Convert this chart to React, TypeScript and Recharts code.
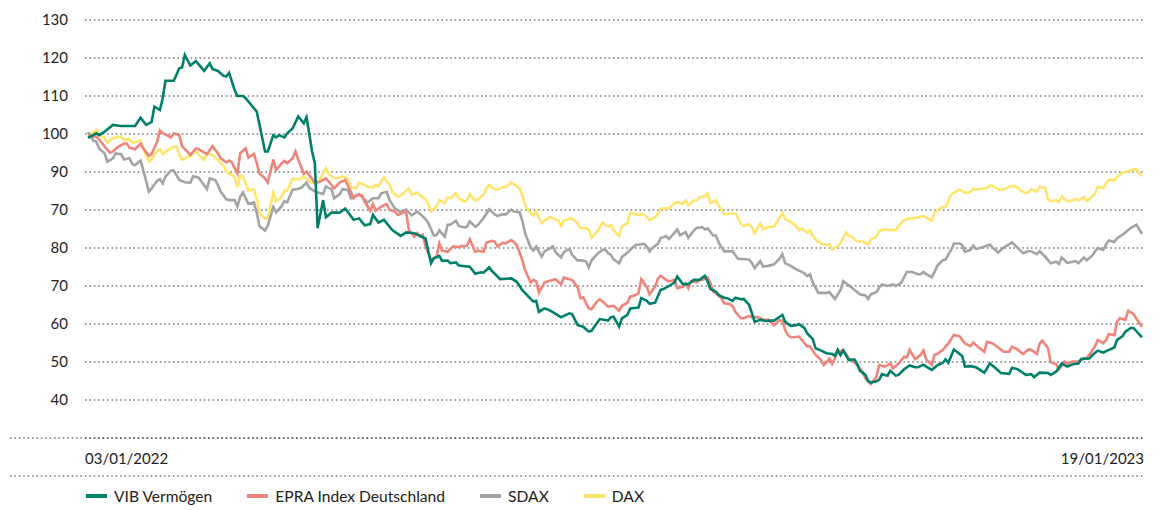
import React from "react";
import { LineChart, Line, XAxis, YAxis, CartesianGrid, Legend } from "recharts";

// x = calendar days since 03/01/2022, y = indexed value
const DAY_LAST = 381;
const X_TICK_LABELS = ["03/01/2022", "19/01/2023"];
const Y_TICKS = [130, 120, 110, 100, 90, 80, 70, 60, 50, 40, 30];
// labels exactly as printed on the original chart
const Y_TICK_LABELS = ["130", "120", "110", "100", "90", "70", "80", "70", "60", "50", "40"];

const VIB: [number, number][] = [
  [0, 99], [3, 100.2], [4, 99.7], [6, 100.6], [9, 102.4], [12, 102.1], [17, 102.1], [19, 104.3], [21, 102.4], [23, 103.2],
  [24, 107.2], [26, 106.3], [27, 109.4], [28, 114], [31, 114], [33, 117.3], [34, 117.5], [35, 120.8], [37, 118], [39, 119.2],
  [40, 118.3], [42, 116.6], [44, 118.6], [45, 117.1], [47, 116.6], [49, 115.3], [50, 115.1], [51, 116.1], [53, 111.6], [54, 110],
  [56, 110], [57, 109.4], [61, 105.9], [64, 95.4], [65, 95.4], [67, 99.7], [68, 99.1], [69, 99.7], [71, 99.1], [72, 100.2],
  [74, 101.5], [76, 104.6], [78, 102.8], [79, 104.4], [81, 95.4], [82, 92.3], [83, 75.2], [85, 82.6], [86, 78.1], [88, 79.3],
  [91, 79.3], [93, 80.4], [96, 77.4], [98, 77.8], [100, 76], [102, 76.3], [103, 78.7], [105, 76.7], [107, 77.4], [110, 74.7],
  [113, 73.2], [115, 74.1], [118, 73.9], [120, 73.2], [122, 72.5], [124, 66], [125, 67.3], [127, 67.9], [128, 66.6], [130, 66.7],
  [131, 66], [133, 66.2], [134, 65.4], [138, 65.1], [140, 63.2], [142, 63.6], [143, 63.5], [145, 64.9], [146, 64], [149, 61.8],
  [153, 62], [155, 61.1], [157, 58.9], [160, 56.6], [161, 55.9], [162, 56.1], [163, 53.2], [165, 54.1], [166, 53.9], [168, 53.1],
  [171, 51.8], [174, 52.8], [175, 52.6], [177, 49.7], [179, 49.3], [181, 48], [182, 48.2], [185, 51.3], [188, 50.9], [189, 51.8],
  [190, 51.9], [192, 49.3], [193, 51.5], [195, 52.4], [196, 54.1], [199, 54.3], [200, 56.8], [202, 56.1], [203, 55.3], [205, 55.6],
  [207, 59], [208, 59.2], [210, 60], [212, 60.9], [213, 62.5], [215, 60.5], [217, 60.5], [219, 61.6], [221, 61.6], [223, 62.7],
  [224, 61.1], [225, 59.2], [227, 58.5], [228, 57.6], [230, 56.9], [231, 56.8], [233, 56.1], [234, 56.9], [236, 56.5], [237, 56.6],
  [239, 55], [241, 50.6], [243, 51.1], [245, 50.8], [247, 50.9], [248, 50.9], [251, 52.4], [252, 50.6], [254, 49.5], [256, 49.7],
  [257, 50], [259, 48.9], [260, 47.5], [262, 46], [263, 43.6], [265, 43], [267, 42.3], [269, 42.1], [270, 41.6], [271, 43.2],
  [272, 41.8], [273, 43], [275, 40.5], [277, 40.7], [278, 39.6], [279, 37.7], [281, 36.6], [282, 35], [283, 34.6], [285, 34.9],
  [286, 35.3], [287, 36.8], [289, 36.4], [290, 37.7], [292, 36.4], [293, 36.6], [295, 38.1], [297, 39.1], [299, 38.6], [300, 38.6],
  [302, 39.3], [303, 38.8], [305, 37.9], [307, 39.1], [309, 39.8], [310, 40.7], [311, 39.8], [313, 43.3], [316, 41.6], [317, 38.8],
  [319, 38.9], [321, 38.6], [324, 37.2], [326, 39.6], [328, 38.4], [330, 37.1], [333, 36.9], [334, 38.5], [336, 38.1], [339, 36.6],
  [341, 36.8], [342, 36], [344, 37.2], [347, 37.1], [348, 36.6], [350, 37.5], [352, 39.6], [354, 38.8], [356, 39.4], [358, 39.6],
  [359, 40.8], [362, 40.9], [363, 41.8], [365, 43], [367, 42.5], [369, 43.2], [371, 43.8], [372, 45.8], [374, 46.8], [375, 48],
  [377, 49], [378, 48.9], [381, 46.5],
];

const EPRA: [number, number][] = [
  [0, 99.5], [3, 99.3], [4, 98.6], [6, 96.7], [8, 95.1], [9, 95.4], [11, 96.7], [13, 97.5], [14, 97.5], [15, 96.4],
  [17, 96], [19, 97.4], [20, 96.2], [22, 94.2], [23, 94.7], [25, 98], [26, 100.9], [27, 100.2], [28, 99.9], [30, 99.1],
  [31, 100.2], [33, 99.7], [34, 96.8], [35, 96], [37, 94.5], [39, 96.2], [40, 96], [42, 95.1], [43, 94.7], [45, 96.8],
  [47, 94.9], [48, 93.6], [50, 92.5], [51, 93], [52, 92.5], [54, 89.6], [55, 94.9], [57, 96.2], [58, 93.8], [60, 94.8],
  [61, 92.3], [62, 89.6], [64, 88.3], [65, 87.2], [67, 93.3], [68, 90.5], [70, 92.3], [71, 92.9], [72, 92.3], [74, 93.6],
  [75, 95.4], [76, 93.3], [78, 89.5], [79, 90.1], [81, 88.2], [82, 87], [84, 87.5], [86, 88.3], [87, 87.5], [89, 85.7],
  [91, 87.2], [93, 87.9], [95, 84.8], [96, 83.1], [97, 83.9], [99, 83.9], [100, 82.2], [102, 79.8], [103, 81.6], [104, 79.8],
  [106, 80.9], [108, 81.6], [109, 80], [111, 79.6], [112, 78.7], [114, 79.3], [115, 79.6], [116, 74.7], [118, 73], [119, 73.9],
  [120, 73], [121, 73.5], [122, 70.4], [124, 66.8], [126, 67.7], [127, 71.2], [128, 69.3], [130, 69], [132, 70.4], [134, 70.2],
  [135, 70.5], [137, 70.6], [138, 72.3], [140, 69], [141, 69.3], [143, 69], [144, 71.4], [146, 71.9], [147, 71.7], [148, 70.4],
  [150, 71.4], [151, 71.2], [153, 72.1], [154, 71.5], [155, 70.8], [157, 66.8], [158, 64.2], [160, 60.9], [161, 61.6], [162, 61.2],
  [163, 58.3], [165, 60.9], [166, 61.2], [168, 61.6], [169, 61.8], [171, 60.4], [172, 62.2], [174, 61.8], [175, 61.6], [177, 59.6],
  [178, 56.8], [179, 57], [181, 54.1], [182, 53.9], [184, 55.9], [185, 56.5], [187, 55.3], [188, 54.6], [190, 54.8], [192, 53.5],
  [193, 54.8], [195, 55.6], [196, 57.2], [198, 57.6], [199, 58.1], [200, 61.8], [202, 59.7], [203, 57.8], [205, 59.8], [206, 61.9],
  [207, 62.7], [209, 61.6], [210, 61.2], [212, 61.6], [213, 59.4], [215, 59.8], [216, 60.7], [217, 59.4], [218, 61.2], [220, 61],
  [221, 61.6], [222, 61.6], [224, 62.3], [225, 60.7], [226, 58.5], [227, 58.1], [229, 56.8], [230, 55.4], [232, 55.3], [233, 54.7],
  [234, 53.2], [236, 51.5], [237, 51.5], [239, 52.1], [240, 51.8], [242, 51.8], [244, 51.2], [246, 51.1], [248, 49.7], [250, 51],
  [251, 50.9], [252, 48.4], [253, 47.1], [254, 46.5], [255, 46.5], [257, 46.7], [258, 45.8], [260, 44.1], [261, 44.1], [263, 41.9],
  [265, 40.5], [266, 39.2], [268, 40.9], [269, 39.5], [271, 42.5], [273, 43.2], [275, 41], [276, 40.5], [278, 39.2], [280, 37.5],
  [281, 35.7], [283, 34.2], [285, 36.1], [286, 39.2], [288, 38.8], [290, 39.6], [291, 38.3], [293, 39.6], [295, 41.4], [296, 41.2],
  [297, 43.2], [299, 40.7], [301, 41.9], [302, 43], [303, 40.7], [305, 39.2], [306, 41.9], [307, 42.1], [309, 43.2], [311, 44.9],
  [313, 47.1], [315, 46.8], [317, 44.9], [319, 44.2], [320, 45.1], [322, 43.8], [324, 42.7], [325, 45.3], [327, 44.9], [329, 43.8],
  [331, 42.7], [333, 42.7], [334, 44], [336, 43.3], [338, 42.1], [340, 43.3], [341, 43.2], [343, 42.1], [344, 44.9], [345, 45.6],
  [347, 43.6], [348, 39.9], [350, 39.4], [351, 38.1], [353, 40.1], [354, 39.6], [356, 40.1], [358, 40.1], [360, 41], [361, 41],
  [363, 43], [364, 44.1], [365, 45.8], [367, 45], [368, 45.8], [369, 47.3], [371, 47.1], [372, 50.6], [373, 51.5], [375, 51.1],
  [376, 53.5], [378, 52.6], [379, 51.4], [381, 49.3],
];

const SDAX: [number, number][] = [
  [0, 100.5], [2, 98.2], [3, 98], [4, 96.2], [6, 94.9], [7, 92.7], [9, 93.6], [10, 94.9], [12, 94.7], [13, 93.3],
  [15, 93.6], [16, 92.1], [17, 91.8], [19, 93], [20, 90.5], [22, 84.8], [23, 85.7], [25, 87.7], [26, 88.1], [27, 87],
  [28, 88.8], [30, 90.4], [31, 90.4], [33, 87.9], [35, 87.3], [37, 87.2], [38, 88.9], [40, 88.5], [41, 87.5], [43, 85.5],
  [44, 88.3], [46, 87.9], [47, 86.5], [48, 84.8], [50, 82.8], [51, 82.6], [53, 82.6], [54, 80.9], [55, 83.5], [56, 84.6],
  [58, 81.6], [60, 82], [61, 79.2], [62, 75.7], [64, 74.6], [65, 75.9], [67, 80.8], [68, 79.4], [70, 81], [71, 82.3],
  [72, 82], [74, 85.4], [75, 85.4], [77, 85.8], [79, 87.2], [80, 85.8], [82, 84.9], [83, 84.6], [85, 84.2], [86, 86.2],
  [88, 85.5], [89, 83.1], [91, 84.2], [92, 85.5], [94, 85.3], [95, 83.1], [96, 83.3], [98, 84.2], [100, 82.8], [101, 81.9],
  [103, 83.1], [105, 83.1], [106, 84.4], [108, 84.8], [109, 82.6], [111, 80.4], [113, 79.5], [115, 80.1], [117, 78.6], [119, 79.6],
  [120, 79], [122, 77.6], [123, 76.6], [125, 73.3], [126, 73.4], [127, 74.6], [129, 73], [130, 76.1], [131, 76.1], [133, 77.2],
  [134, 75.8], [136, 75.4], [137, 75.6], [138, 77], [140, 75.6], [141, 76.1], [143, 77.9], [145, 80.2], [147, 78.9], [148, 78.4],
  [150, 78.9], [151, 78.8], [153, 80.1], [154, 79.6], [156, 79.4], [157, 77.2], [158, 73.9], [160, 70.2], [161, 69.3], [162, 70.4],
  [164, 67.7], [165, 69.1], [167, 69.9], [168, 70.4], [169, 68.9], [171, 67.5], [172, 68.9], [174, 69.8], [175, 68.2], [177, 66.7],
  [178, 66.8], [180, 66.5], [181, 64.9], [182, 66.7], [184, 68.4], [186, 69.5], [187, 69.6], [188, 68.6], [189, 68.2], [190, 67],
  [192, 66], [193, 67.6], [195, 68.8], [197, 70.2], [198, 70.8], [200, 71], [201, 71.1], [202, 70.4], [203, 69.1], [204, 70],
  [206, 71.1], [207, 72.6], [209, 73.1], [210, 72.4], [212, 74], [213, 74.9], [214, 73.4], [216, 74.2], [217, 72.7], [219, 74.6],
  [220, 75.3], [222, 75.5], [223, 74.9], [224, 75.2], [226, 73.3], [227, 73.3], [228, 71.4], [230, 69.1], [231, 69.1], [233, 69.1],
  [235, 67.1], [237, 67.1], [239, 66.9], [240, 66], [241, 64.7], [243, 66.6], [244, 65.1], [246, 65.3], [248, 65.7], [250, 67.2],
  [251, 68.4], [252, 66], [254, 65.3], [256, 64.4], [258, 63.7], [259, 63.3], [260, 62.6], [261, 63.1], [262, 60.9], [264, 58.2],
  [265, 58.2], [267, 58.2], [268, 58.4], [270, 56.6], [271, 57.8], [272, 58.9], [273, 61.3], [275, 60.2], [276, 59.6], [278, 58.4],
  [279, 57.8], [281, 57.5], [282, 56.6], [283, 57.8], [285, 58.4], [286, 59.6], [287, 60.4], [289, 60], [291, 60.4], [292, 60],
  [294, 60.9], [295, 62.3], [296, 63.7], [298, 63.7], [300, 63.1], [301, 63.1], [302, 63.7], [303, 63.1], [305, 62.3], [306, 63.7],
  [307, 65.3], [309, 66.8], [310, 67], [312, 69.5], [313, 71.2], [315, 71.2], [316, 70.8], [317, 69], [319, 69.5], [320, 70.6],
  [321, 69.7], [323, 70.1], [326, 70.9], [327, 70.1], [329, 68.8], [331, 70.1], [334, 71.5], [336, 70.1], [338, 68.6], [340, 69.2],
  [341, 69.1], [343, 68.4], [344, 69.2], [346, 67.7], [348, 66], [350, 66.4], [351, 65.8], [352, 67.5], [354, 66.1], [356, 66.4],
  [357, 66.6], [358, 66], [360, 67.5], [361, 66.8], [363, 68], [364, 69.1], [365, 70], [367, 69.5], [368, 70.9], [369, 72],
  [371, 71.6], [372, 72.6], [374, 73.5], [375, 74.1], [377, 75.3], [378, 75.7], [379, 76.1], [381, 73.7],
];

const DAX: [number, number][] = [
  [0, 100], [2, 100.4], [3, 101.1], [5, 99.3], [6, 99.1], [7, 97.7], [9, 98.9], [11, 99.3], [12, 99.3], [13, 98.4],
  [15, 98.7], [16, 97.7], [18, 98], [19, 98.4], [20, 96.2], [22, 92.7], [23, 93.3], [25, 95.6], [26, 96], [27, 94.7],
  [29, 95.8], [31, 96.7], [32, 96.7], [33, 94.7], [34, 93.2], [36, 94], [37, 94.2], [38, 94.9], [39, 95.6], [40, 94.5],
  [42, 93.2], [43, 94.9], [45, 94.5], [47, 93.2], [49, 91.6], [50, 90.1], [51, 89.6], [53, 88.8], [54, 86], [55, 89],
  [56, 88.9], [58, 85.1], [60, 85.4], [61, 82.8], [62, 79.1], [64, 77.8], [65, 77.8], [67, 84.6], [68, 82.2], [70, 83.5],
  [71, 85.1], [72, 85.1], [74, 88.3], [75, 88.1], [77, 88.2], [78, 88.8], [80, 87.5], [81, 87.2], [83, 87.5], [84, 88.3],
  [86, 91], [87, 89.5], [89, 88.3], [91, 88.5], [92, 88.9], [94, 88.2], [95, 86.1], [97, 85.7], [98, 87.2], [100, 86.6],
  [101, 86.1], [103, 85.9], [104, 86.6], [105, 86.3], [107, 88.6], [109, 86.6], [110, 84.8], [112, 83.5], [113, 83.7], [115, 85.1],
  [116, 85.7], [117, 84], [119, 84.6], [120, 83.9], [122, 82.8], [123, 81.6], [124, 79.6], [126, 80.9], [127, 82.6], [129, 81.8],
  [130, 83.3], [131, 83.1], [133, 84.4], [134, 83.1], [136, 82.2], [137, 82.6], [138, 84.1], [140, 82.5], [141, 82.8], [143, 84.1],
  [144, 85.7], [145, 86.6], [147, 85.4], [148, 85.3], [150, 86.1], [151, 86], [153, 87.2], [154, 86.8], [156, 85.7], [157, 83.9],
  [158, 81.3], [160, 79.1], [161, 78.5], [162, 79.6], [164, 76.5], [165, 77.2], [167, 78.2], [168, 77.8], [170, 77.2], [171, 75.8],
  [172, 77.2], [174, 77.7], [175, 77.8], [177, 76.5], [178, 75.2], [180, 75.2], [181, 74.9], [182, 72.7], [184, 74.3], [185, 75.4],
  [186, 76.7], [188, 75.6], [189, 76.1], [190, 74.7], [192, 73.1], [193, 75.8], [195, 76.5], [196, 79.3], [198, 78.8], [199, 78.8],
  [201, 78.8], [202, 78.2], [203, 77.3], [205, 78.1], [206, 79], [207, 80.4], [209, 80.4], [210, 80.4], [212, 81.8], [213, 82.1],
  [215, 81.6], [216, 82.5], [217, 81.3], [219, 82.5], [220, 82.5], [221, 83.3], [223, 83.6], [224, 84.4], [225, 81.8], [227, 82.5],
  [228, 81.1], [230, 78.9], [231, 78.9], [234, 79.2], [236, 76.3], [237, 75.8], [239, 76.3], [240, 75.4], [241, 73.9], [243, 76.5],
  [244, 74.9], [246, 75.6], [248, 75.6], [249, 76.8], [251, 79.2], [252, 77.7], [254, 76.8], [256, 75.8], [257, 74.7], [258, 75.1],
  [260, 74], [261, 74.7], [262, 73.1], [264, 71.6], [265, 71.2], [267, 70.8], [268, 71], [269, 69.6], [271, 70.5], [272, 71.2],
  [274, 74.1], [275, 73.2], [276, 73], [278, 71.7], [280, 71.7], [282, 71], [283, 72.3], [285, 73], [286, 74.5], [288, 74.9],
  [290, 74.7], [292, 74.7], [293, 75.8], [294, 76.7], [296, 77.7], [298, 77.8], [300, 78], [302, 78.5], [303, 78], [305, 77.2],
  [306, 79.2], [307, 79.9], [309, 80.8], [310, 80.8], [312, 84.1], [313, 84.5], [315, 85.4], [317, 84.5], [319, 84.7], [320, 85.6],
  [321, 85.4], [323, 85.6], [325, 85.8], [326, 86.5], [327, 86.4], [329, 85.4], [331, 85.4], [333, 86.1], [334, 86.4], [336, 86],
  [337, 85.1], [339, 84.5], [340, 84.7], [341, 85.4], [343, 84.9], [344, 86.1], [346, 85.8], [347, 82.9], [348, 82.3], [350, 82.6],
  [351, 82.1], [352, 83.6], [354, 82.3], [356, 82.6], [357, 82.9], [358, 82.5], [360, 83.4], [361, 82.3], [363, 83.5], [364, 84.3],
  [365, 86.1], [367, 85.8], [368, 87], [369, 88], [371, 87.8], [372, 88.7], [374, 89.8], [375, 90], [377, 90.4], [378, 90.7],
  [379, 90.7], [381, 88.8],
];

const SERIES = [
  { name: "VIB Vermögen", color: "#00806b", points: VIB },
  { name: "EPRA Index Deutschland", color: "#f0847b", points: EPRA },
  { name: "SDAX", color: "#a3a3a3", points: SDAX },
  { name: "DAX", color: "#ffe46e", points: DAX },
];

const FONT = "Lato, 'Open Sans', sans-serif";
const DOT_LINE = { stroke: "#3a3a3a", strokeWidth: 1.2, strokeDasharray: "1.6 2.8" };

function DateTick(props: any) {
  const { x, y, payload } = props;
  const first = payload.value === 0;
  return (
    <text
      x={first ? x - 3 : x + 2}
      y={y + 24}
      textAnchor={first ? "start" : "end"}
      fontFamily={FONT}
      fontSize={15}
      fill="#222"
    >
      {first ? X_TICK_LABELS[0] : X_TICK_LABELS[1]}
    </text>
  );
}

function LegendRow() {
  return (
    <div style={{ display: "flex", alignItems: "center", height: 28, paddingLeft: 86, fontFamily: FONT, fontSize: 15.6, color: "#222" }}>
      {SERIES.map((s) => (
        <div key={s.name} style={{ display: "flex", alignItems: "center", marginRight: 35 }}>
          <span style={{ display: "inline-block", width: 21, height: 4, background: s.color, marginRight: 7 }} />
          <span>{s.name}</span>
        </div>
      ))}
    </div>
  );
}

export default function App() {
  const toRows = (pts: [number, number][]) => pts.map(([day, value]) => ({ day, value }));
  const drawOrder = [...SERIES].reverse();

  return (
    <div style={{ position: "absolute", left: 0, top: 0, width: 1159, height: 510, background: "#fff" }}>
      <LineChart width={1159} height={510} margin={{ top: 20, right: 14, bottom: 0, left: 0 }}>
        <CartesianGrid horizontal vertical={false} {...DOT_LINE} />
        <XAxis
          type="number"
          dataKey="day"
          domain={[0, DAY_LAST]}
          ticks={[0, DAY_LAST]}
          padding={{ left: 3, right: 3 }}
          height={44}
          axisLine={false}
          tickLine={false}
          tickSize={0}
          tick={<DateTick />}
          interval={0}
        />
        <YAxis
          type="number"
          domain={[20, 130]}
          ticks={Y_TICKS}
          width={85}
          axisLine={false}
          tickLine={false}
          tickSize={0}
          tickMargin={17}
          interval={0}
          tickFormatter={(v: number) => Y_TICK_LABELS[Y_TICKS.indexOf(v)] ?? ""}
          tick={{ fontFamily: FONT, fontSize: 15, fill: "#222" }}
        />
        <Legend verticalAlign="bottom" align="left" content={() => <LegendRow />} wrapperStyle={{ left: 0 }} />
        {drawOrder.map((s) => (
          <Line
            key={s.name}
            data={toRows(s.points)}
            dataKey="value"
            name={s.name}
            type="linear"
            stroke={s.color}
            strokeWidth={2.6}
            dot={false}
            activeDot={false}
            isAnimationActive={false}
          />
        ))}
      </LineChart>
      <svg width={1159} height={510} style={{ position: "absolute", left: 0, top: 0, pointerEvents: "none" }}>
        <line x1={10} x2={1143} y1={438} y2={438} {...DOT_LINE} />
        <line x1={10} x2={1143} y1={476} y2={476} {...DOT_LINE} />
      </svg>
    </div>
  );
}
